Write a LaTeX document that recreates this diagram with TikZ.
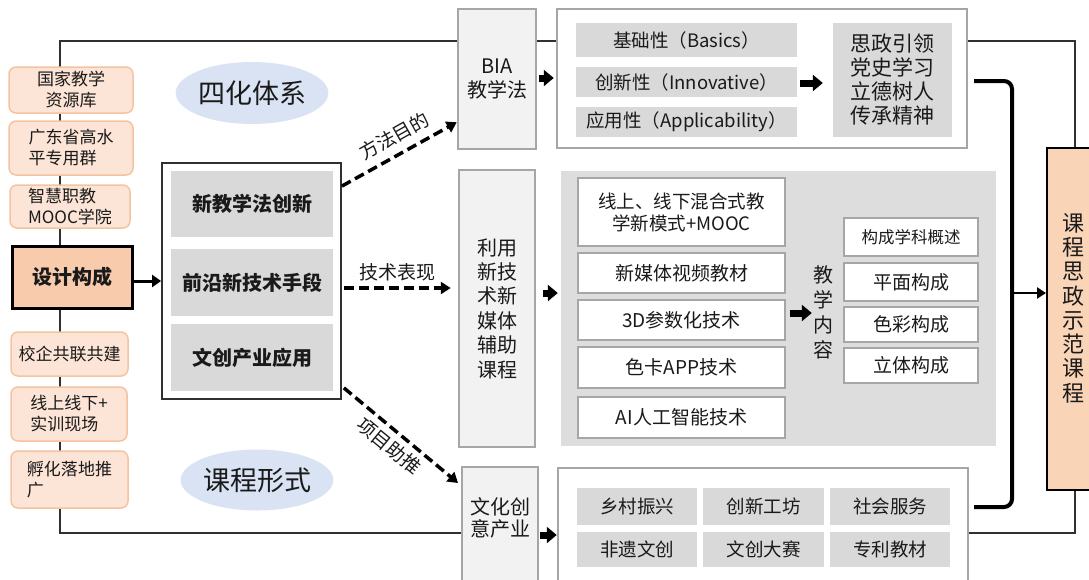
\documentclass[tikz,border=0pt]{standalone}
\usepackage{fontspec}
\setmainfont{Noto Sans CJK SC}
\usetikzlibrary{arrows.meta,calc,shapes.geometric}
\pgfdeclarelayer{background}
\pgfsetlayers{background,main}
\definecolor{orfill}{HTML}{FCE4D6}
\definecolor{orline}{HTML}{F4C3A0}
\definecolor{desfill}{HTML}{F8CBAD}
\definecolor{rbfill}{HTML}{FAD4B6}
\definecolor{cell}{HTML}{D9D9D9}
\definecolor{area}{HTML}{DDDDDD}
\definecolor{panelline}{HTML}{A6A6A6}
\definecolor{lightfill}{HTML}{F2F2F2}
\definecolor{ellfill}{HTML}{DAE3F3}
\definecolor{txt}{HTML}{1A1A1A}
\definecolor{frameline}{HTML}{303030}
\begin{document}
\begin{tikzpicture}[x=1pt,y=-1pt,
  every node/.style={text=txt},
  box/.style={rectangle, inner sep=0pt, align=center},
  orbox/.style={box, rounded corners=7pt, draw=orline, fill=orfill, line width=1.5pt, font=\fontsize{17}{21}\selectfont},
  desbox/.style={box, draw=black, fill=desfill, line width=3pt, font=\fontsize{20}{24}\selectfont\bfseries},
  cbox/.style={box, draw=frameline, fill=white, line width=1.8pt},
  boldcell/.style={box, fill=cell, font=\fontsize{20}{24}\selectfont\bfseries},
  cellbox/.style={box, fill=cell, font=\fontsize{18.5}{22}\selectfont},
  panel/.style={box, draw=panelline, fill=white, line width=2.5pt},
  sidebox/.style={box, draw=panelline, fill=lightfill, line width=2.5pt, font=\fontsize{20}{24.4}\selectfont},
  wbox/.style={box, draw=panelline, fill=white, line width=1.5pt, font=\fontsize{19}{22}\selectfont},
  ell/.style={ellipse, inner sep=0pt, fill=ellfill, font=\fontsize{27}{30}\selectfont},
  frame/.style={draw=frameline, line width=1.3pt},
  blk/.style={line width=7pt, -{Triangle[length=10pt,width=16pt]}},
  thinarrow/.style={line width=3pt, -{Triangle[length=9pt,width=12pt]}},
  dasharrow/.style={line width=3.5pt, dash pattern=on 10pt off 5pt, -{Triangle[length=10pt,width=12pt]}},
  dlabel/.style={font=\fontsize{19}{22}\selectfont, inner sep=1pt},
  bracket/.style={line width=4pt, rounded corners=8pt}
]
\useasboundingbox (0,0) rectangle (1089,579);

% left column
\node[orbox, minimum width=124, minimum height=46] (l1) at (71,90) {国家教学\\资源库};
\node[orbox, minimum width=124, minimum height=54, align=left] (l2) at (71,148) {广东省高水\\平专用群};
\node[orbox, minimum width=120, minimum height=43, align=left] (l3) at (70,206.5) {智慧职教\\MOOC学院};
\node[desbox, minimum width=120, minimum height=62] (l4) at (72,277) {设计构成};
\node[orbox, minimum width=117, minimum height=44] (l5) at (69.5,354) {校企共联共建};
\node[orbox, minimum width=116, minimum height=54, align=left] (l6) at (69,414) {线上线下+\\实训现场};
\node[orbox, minimum width=117, minimum height=57, align=left] (l7) at (69.5,479.5) {孵化落地推\\广\phantom{化落地推}};

% ellipses
\node[ell, minimum width=150, minimum height=62] (e1) at (252,93) {四化体系};
\node[ell, minimum width=150, minimum height=61] (e2) at (257,480) {课程形式};

% center box
\node[cbox, minimum width=179, minimum height=236] (cb) at (251.5,281) {};
\node[boldcell, minimum width=162, minimum height=66] (c1) at (252,204) {新教学法创新};
\node[boldcell, minimum width=162, minimum height=67] (c2) at (252,282.5) {前沿新技术手段};
\node[boldcell, minimum width=162, minimum height=67] (c3) at (252,357.5) {文创产业应用};

% top row
\node[sidebox, minimum width=78, minimum height=140] (bia) at (497,79) {BIA\\教学法};
\node[panel, minimum width=410, minimum height=139] (top) at (762,78.5) {};
\node[cellbox, minimum width=221, minimum height=34] (t1) at (686.5,40) {基础性（Basics）};
\node[cellbox, minimum width=221, minimum height=30] (t2) at (686.5,82) {创新性（Innovative）};
\node[cellbox, minimum width=221, minimum height=30] (t3) at (686.5,122) {应用性（Applicability）};
\node[box, fill=cell, minimum width=119, minimum height=114, font=\fontsize{21}{24}\selectfont] (t4) at (892.5,80) {思政引领\\党史学习\\立德树人\\传承精神};

% middle row
\node[sidebox, minimum width=76, minimum height=277] (mb) at (497,308.5) {利用\\新技\\术新\\媒体\\辅助\\课程};
\node[box, fill=area, minimum width=435, minimum height=275] (ga) at (778.5,308.5) {};
\node[wbox, minimum width=207, minimum height=68, font=\fontsize{18.5}{22}\selectfont] (w1) at (681.5,212) {线上、线下混合式教\\学新模式+MOOC};
\node[wbox, minimum width=207, minimum height=40] (w2) at (681.5,273) {新媒体视频教材};
\node[wbox, minimum width=207, minimum height=40] (w3) at (681.5,320) {3D参数化技术};
\node[wbox, minimum width=207, minimum height=41] (w4) at (681.5,367.5) {色卡APP技术};
\node[wbox, minimum width=207, minimum height=41] (w5) at (681.5,417.5) {AI人工智能技术};
\node[box, font=\fontsize{20}{25}\selectfont] (jx) at (823,312) {教\\学\\内\\容};
\node[wbox, minimum width=134, minimum height=38, font=\fontsize{16.5}{20}\selectfont] (r1) at (911,237) {构成学科概述};
\node[wbox, minimum width=134, minimum height=38] (r2) at (911,282) {平面构成};
\node[wbox, minimum width=134, minimum height=35] (r3) at (911,324.5) {色彩构成};
\node[wbox, minimum width=134, minimum height=35] (r4) at (911,365.5) {立体构成};

% bottom row
\node[sidebox, minimum width=76, minimum height=126] (yb) at (500,530) {};
\node[box, font=\fontsize{20}{22}\selectfont] (ybt) at (500,517.5) {文化创\\意产业};
\node[panel, minimum width=410, minimum height=126] (bb) at (763,531) {};
\node[cellbox, minimum width=120, minimum height=37] (b11) at (637,506.5) {乡村振兴};
\node[cellbox, minimum width=121, minimum height=37] (b12) at (763.5,506.5) {创新工坊};
\node[cellbox, minimum width=120, minimum height=37] (b13) at (890,506.5) {社会服务};
\node[cellbox, minimum width=120, minimum height=35] (b21) at (637,549.5) {非遗文创};
\node[cellbox, minimum width=121, minimum height=35] (b22) at (763.5,549.5) {文创大赛};
\node[cellbox, minimum width=120, minimum height=35] (b23) at (890,549.5) {专利教材};

% right box
\node[box, draw=black, fill=rbfill, line width=2pt, minimum width=53, minimum height=342] (rb) at (1073.5,319) {};
\node[box, font=\fontsize{22}{24.3}\selectfont] (rbt) at (1073,308) {课\\程\\思\\政\\示\\范\\课\\程};

% frame lines
\coordinate (ftl) at (60,41);
\coordinate (fbl) at (60,533);
\coordinate (ftr) at (1075,41);
\coordinate (fbr) at (1075,533);
\begin{pgfonlayer}{background}
\draw[frame] (bia.west |- ftl) -- (ftl) -- (fbl) -- (yb.west |- fbl);
\draw[frame] (bia.east |- ftl) -- (top.west |- ftl);
\draw[frame] (top.east |- ftl) -- (ftr) -- (ftr |- rb.north);
\draw[frame] (bb.east |- fbr) -- (fbr) -- (fbr |- rb.south);
\end{pgfonlayer}

% block arrows
\coordinate (ya) at (0,78);
\draw[blk] ($(bia.east |- ya)+(2,0)$) -- ($(top.west |- ya)+(-2,0)$);
\coordinate (yb2) at (0,83);
\draw[blk] ($(t2.east |- yb2)+(3,0)$) -- ($(t4.west |- yb2)+(-10,0)$);
\coordinate (yc) at (0,293);
\draw[blk] ($(mb.east |- yc)+(7,0)$) -- ($(ga.west |- yc)+(-3,0)$);
\coordinate (yd) at (0,313);
\draw[blk] ($(w3.east |- yd)+(4,0)$) -- ($(jx.west |- yd)+(-1,0)$);
\coordinate (ye) at (0,535);
\draw[blk] ($(yb.east |- ye)+(1,0)$) -- (bb.west |- ye);

% left arrow
\coordinate (yf) at (0,281);
\draw[thinarrow] (l4.east |- yf) -- (cb.west |- yf);

% dashed arrows
\coordinate (d1s) at ($(cb.north east)+(0,24)$);
\coordinate (d1e) at ($(bia.south west)+(0,-28)$);
\draw[dasharrow] (d1s) -- (d1e);
\node[dlabel, rotate=29.4] (lab1) at (394,136) {方法目的};
\coordinate (yg) at (0,288);
\draw[dasharrow] ($(cb.east |- yg)+(2,0)$) -- node[dlabel, above=3pt, inner sep=2pt] (lab2) {技术表现} ($(mb.west |- yg)+(-7,0)$);
\coordinate (d3s) at ($(cb.south east)+(2,-12)$);
\coordinate (d3e) at (458,483);
\draw[dasharrow] (d3s) -- (d3e);
\node[dlabel, rotate=-39.5] (lab3) at (389,446) {项目助推};

% thick bracket
\coordinate (kb1) at (974,81);
\coordinate (kb2) at (974,507);
\coordinate (km) at (1012,293);
\draw[bracket] (kb1) -- (km |- kb1) -- (km |- kb2) -- (kb2);
\draw[line width=2.5pt, -{Triangle[length=9pt,width=11pt]}] (km) -- (rb.west |- km);
\end{tikzpicture}
\end{document}
